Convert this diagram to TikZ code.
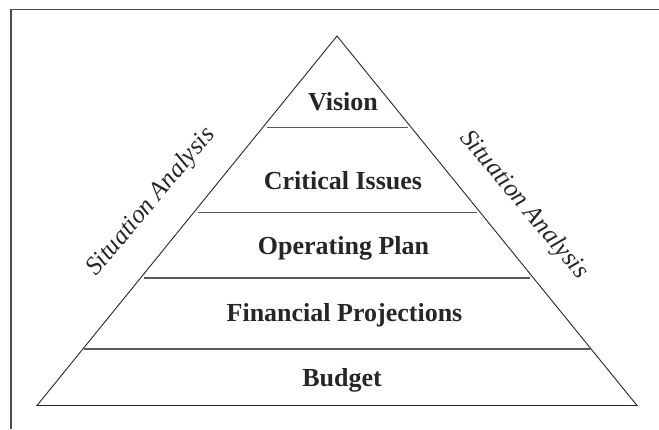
\documentclass[tikz,border=0pt]{standalone}
\usepackage{fontspec}
\setmainfont{Liberation Serif}
\begin{document}
\begin{tikzpicture}[x=1pt,y=-1pt,
  edge/.style={draw=black!85, line width=0.9pt, line join=miter},
  tier/.style={draw=black!65, line width=1.4pt},
  frameline/.style={draw=black!70, line width=1.4pt},
  level/.style={font=\fontsize{26}{30}\selectfont\bfseries, text=black!85, anchor=base, inner sep=0pt},
  side/.style={font=\fontsize{25.5}{30}\selectfont\itshape, text=black!85, anchor=base, inner sep=0pt}]
  \useasboundingbox (0,0) rectangle (659,429);
  % partial frame: top and left rules
  \coordinate (ftl) at (11,9.5);
  \coordinate (ftr) at (659,9.5);
  \coordinate (fbl) at (11,429);
  \draw[frameline] (ftr) -- (ftl) -- (fbl);
  % pyramid outline
  \coordinate (apex) at (337,36);
  \coordinate (bl) at (37,405.5);
  \coordinate (br) at (637,405.5);
  \draw[edge] (bl) -- (apex) -- (br) -- cycle;
  % tier dividers
  \foreach \n/\y/\a/\b in {t1/127.5/267/408, t2/212.5/198/477, t3/278/144/530, t4/349/84/590}{
    \coordinate (\n l) at (\a,\y);
    \coordinate (\n r) at (\b,\y);
    \draw[tier] (\n l) -- (\n r);
  }
  % tier labels
  \node[level] (vision) at (343,110) {Vision};
  \node[level] (issues) at (343,189) {Critical Issues};
  \node[level] (plan) at (343.5,254) {Operating Plan};
  \node[level] (fin) at (344.5,321) {Financial Projections};
  \node[level] (budget) at (342,386) {Budget};
  % side labels
  \node[side, rotate=50] (sideL) at (156,206) {Situation Analysis};
  \node[side, rotate=-50] (sideR) at (519,209) {Situation Analysis};
\end{tikzpicture}
\end{document}
